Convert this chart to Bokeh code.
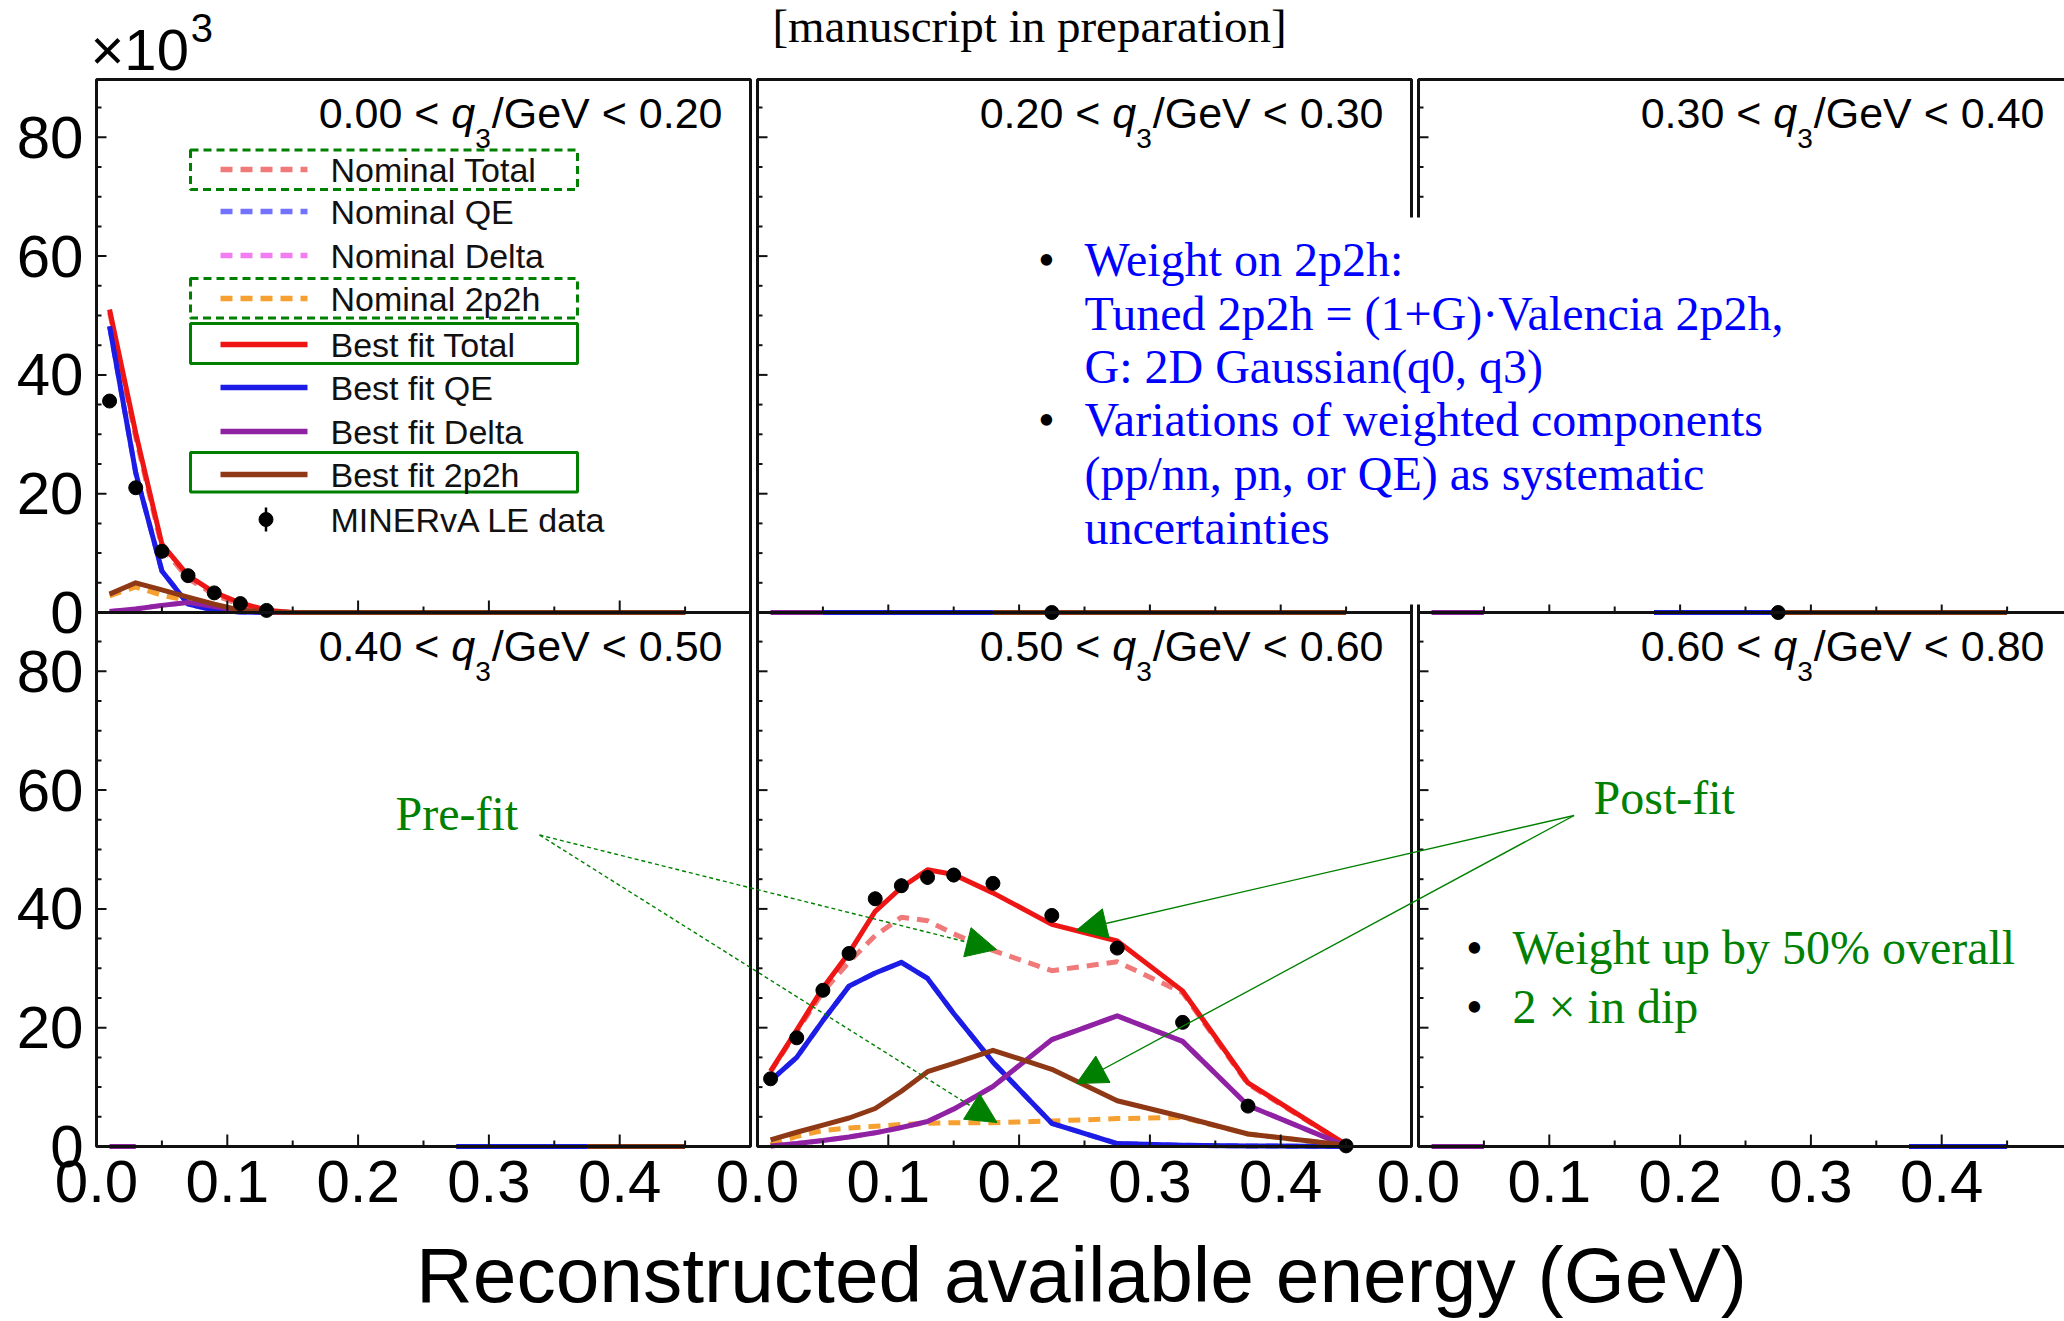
import numpy as np
from bokeh.plotting import figure
from bokeh.models import (Range1d, LinearAxis, FixedTicker, CustomJSTickFormatter,
                          Label, Arrow, NormalHead, AllLabels)
from bokeh.embed import file_html
from bokeh.resources import INLINE

# ---------------------------------------------------------------- data
energy_bins = [0.01, 0.03, 0.05, 0.07, 0.09, 0.11, 0.13, 0.15, 0.18, 0.225, 0.275, 0.325, 0.375, 0.45]
q3_edges = ["0.00", "0.20", "0.30", "0.40", "0.50", "0.60", "0.80"]
x_tick_values = [0.0, 0.1, 0.2, 0.3, 0.4]
y_tick_values = [0, 20, 40, 60, 80]
N = None

# 0.00 < q3 < 0.20
bin1_nominal_total = [50.5, 29.5, 11.0, 5.7, 3.0, 1.3, 0.3, 0, 0, 0, 0, 0, 0, 0]
bin1_nominal_qe    = [48.2, 23.5, 7.0, 1.4, 0.4, 0.1, 0.0, 0, 0, 0, 0, 0, 0, 0]
bin1_nominal_delta = [0.15, 0.6, 1.2, 1.7, 1.0, 0.3, 0.05, 0, 0, 0, 0, 0, 0, 0]
bin1_nominal_2p2h  = [2.8, 4.3, 2.9, 2.0, 1.0, 0.3, 0.0, 0, 0, 0, 0, 0, 0, 0]
bin1_best_total    = [51.0, 30.2, 11.5, 6.2, 3.4, 1.6, 0.4, 0, 0, 0, 0, 0, 0, 0]
bin1_best_qe       = [48.2, 23.5, 7.0, 1.4, 0.4, 0.1, 0.0, 0, 0, 0, 0, 0, 0, 0]
bin1_best_delta    = [0.15, 0.6, 1.2, 1.7, 1.0, 0.3, 0.05, 0, 0, 0, 0, 0, 0, 0]
bin1_best_2p2h     = [3.1, 5.0, 3.8, 2.6, 1.4, 0.4, 0.1, 0, 0, 0, 0, 0, 0, 0]
bin1_data          = [35.6, 21.0, 10.3, 6.2, 3.3, 1.5, 0.35, N, N, N, N, N, N, N]
bin1_err           = [1.0, 0.8, 0.6, 0.5, 0.4, 0.3, 0.2, N, N, N, N, N, N, N]

# 0.20 < q3 < 0.30
bin2_best_qe    = [N, N, 0, 0, 0, 0, 0, 0, 0, N, N, N, N, N]
bin2_best_delta = [0, 0, 0, N, N, N, N, N, N, N, N, N, N, N]
bin2_best_2p2h  = [N, N, N, N, N, N, N, N, 0, 0, 0, 0, 0, 0]
bin2_data       = [N, N, N, N, N, N, N, N, N, 0, N, N, N, N]
bin2_err        = [N, N, N, N, N, N, N, N, N, 0, N, N, N, N]

# 0.30 < q3 < 0.40
bin3_best_qe    = [N, N, N, N, N, N, N, N, 0, 0, 0, N, N, N]
bin3_best_delta = [0, 0, 0, N, N, N, N, N, N, N, N, N, N, N]
bin3_best_2p2h  = [N, N, N, N, N, N, N, N, N, N, 0, 0, 0, 0]
bin3_data       = [N, N, N, N, N, N, N, N, N, N, 0, N, N, N]
bin3_err        = [N, N, N, N, N, N, N, N, N, N, 0, N, N, N]

# 0.40 < q3 < 0.50
bin4_best_qe    = [N, N, N, N, N, N, N, N, N, N, 0, 0, 0, N]
bin4_best_delta = [0, 0, N, N, N, N, N, N, N, N, N, N, N, N]
bin4_best_2p2h  = [N, N, N, N, N, N, N, N, N, N, N, N, 0, 0]

# 0.50 < q3 < 0.60
bin5_nominal_total = [12.6, 19.4, 26.0, 31.1, 35.5, 38.6, 38.0, 35.8, 33.0, 29.6, 31.1, 25.9, 10.5, 0.3]
bin5_nominal_qe    = [11.1, 15.0, 21.2, 27.0, 29.2, 31.0, 28.3, 22.4, 14.2, 3.9, 0.5, 0.2, 0.1, 0.0]
bin5_nominal_delta = [0.1, 0.5, 1.0, 1.6, 2.3, 3.2, 4.2, 6.3, 10.1, 18.0, 22.0, 17.7, 6.9, 0.1]
bin5_nominal_2p2h  = [0.3, 1.7, 2.7, 3.1, 3.4, 3.7, 3.9, 4.0, 4.0, 4.3, 4.7, 4.9, 2.1, 0.2]
bin5_best_total    = [12.7, 19.6, 26.7, 32.6, 39.6, 43.6, 46.6, 45.8, 42.7, 37.4, 34.6, 26.2, 10.7, 0.3]
bin5_best_qe       = [11.1, 15.0, 21.2, 27.0, 29.2, 31.0, 28.3, 22.4, 14.2, 3.9, 0.5, 0.2, 0.1, 0.0]
bin5_best_delta    = [0.1, 0.5, 1.0, 1.6, 2.3, 3.2, 4.2, 6.3, 10.1, 18.0, 22.0, 17.7, 6.9, 0.1]
bin5_best_2p2h     = [1.1, 2.4, 3.6, 4.8, 6.4, 9.3, 12.6, 14.0, 16.2, 13.0, 7.7, 5.0, 2.1, 0.2]
bin5_data          = [11.4, 18.3, 26.3, 32.5, 41.7, 43.9, 45.3, 45.7, 44.3, 38.9, 33.4, 20.9, 6.8, 0.1]
bin5_err           = [0.8, 0.9, 1.0, 1.1, 1.2, 1.2, 1.2, 1.2, 0.9, 0.8, 0.7, 0.6, 0.4, 0.1]

# 0.60 < q3 < 0.80
bin6_best_qe    = [N, N, N, N, N, N, N, N, N, N, N, N, 0, 0]
bin6_best_delta = [0, 0, 0, N, N, N, N, N, N, N, N, N, N, N]

legend_labels = ["Nominal Total", "Nominal QE", "Nominal Delta", "Nominal 2p2h",
                 "Best fit Total", "Best fit QE", "Best fit Delta", "Best fit 2p2h",
                 "MINERvA LE data"]

# ---------------------------------------------------------------- layout (page px)
W, H = 2064, 1321
COL_LEFT = [96, 757, 1418]
PANEL_W = 654
ROW_TOP = [79, 612]
ROW_BOTTOM = [612, 1146]
X_MAX = 0.5
S = PANEL_W / X_MAX                       # px per GeV
T = (ROW_BOTTOM[1] - ROW_TOP[1]) / 89.9   # px per 10^3 events
ROW_TOPVAL = [(ROW_BOTTOM[r] - ROW_TOP[r]) / T for r in range(2)]

STYLES = [
    ("nominal_total", "#f07a7a", 5, "12 8"),
    ("nominal_qe", "#7272ff", 5, "12 8"),
    ("nominal_delta", "#f07ef0", 5, "12 8"),
    ("nominal_2p2h", "#f5a030", 5, "12 8"),
    ("best_total", "#ee1515", 5, "solid"),
    ("best_qe", "#1c1ce6", 5, "solid"),
    ("best_delta", "#8f22a3", 5, "solid"),
    ("best_2p2h", "#8e3815", 5, "solid"),
]
GREEN = "#008000"
SANS = "Liberation Sans"
SERIF = "Liberation Serif"

panels = [
    dict(col=0, row=0, lo=q3_edges[0], hi=q3_edges[1],
         nominal_total=bin1_nominal_total, nominal_qe=bin1_nominal_qe,
         nominal_delta=bin1_nominal_delta, nominal_2p2h=bin1_nominal_2p2h,
         best_total=bin1_best_total, best_qe=bin1_best_qe,
         best_delta=bin1_best_delta, best_2p2h=bin1_best_2p2h,
         data=bin1_data, err=bin1_err),
    dict(col=1, row=0, lo=q3_edges[1], hi=q3_edges[2],
         best_qe=bin2_best_qe, best_delta=bin2_best_delta, best_2p2h=bin2_best_2p2h,
         data=bin2_data, err=bin2_err),
    dict(col=2, row=0, lo=q3_edges[2], hi=q3_edges[3],
         best_qe=bin3_best_qe, best_delta=bin3_best_delta, best_2p2h=bin3_best_2p2h,
         data=bin3_data, err=bin3_err),
    dict(col=0, row=1, lo=q3_edges[3], hi=q3_edges[4],
         best_qe=bin4_best_qe, best_delta=bin4_best_delta, best_2p2h=bin4_best_2p2h),
    dict(col=1, row=1, lo=q3_edges[4], hi=q3_edges[5],
         nominal_total=bin5_nominal_total, nominal_qe=bin5_nominal_qe,
         nominal_delta=bin5_nominal_delta, nominal_2p2h=bin5_nominal_2p2h,
         best_total=bin5_best_total, best_qe=bin5_best_qe,
         best_delta=bin5_best_delta, best_2p2h=bin5_best_2p2h,
         data=bin5_data, err=bin5_err),
    dict(col=2, row=1, lo=q3_edges[5], hi=q3_edges[6],
         best_qe=bin6_best_qe, best_delta=bin6_best_delta),
]


def arr(v):
    return np.array([np.nan if a is None else a for a in v], dtype=float)


# the frame covers the whole canvas; main ranges are page pixels (y downwards)
p = figure(width=W, height=H, output_backend="svg", toolbar_location=None, title=None,
           x_range=Range1d(0, W), y_range=Range1d(H, 0),
           x_axis_type=None, y_axis_type=None,
           min_border_left=0, min_border_right=0, min_border_top=0, min_border_bottom=0)
p.outline_line_color = None
p.background_fill_color = "white"
p.border_fill_color = "white"

for k in range(3):
    p.extra_x_ranges[f"x{k}"] = Range1d((0 - COL_LEFT[k]) / S, (W - COL_LEFT[k]) / S)
for r in range(2):
    p.extra_y_ranges[f"y{r}"] = Range1d((ROW_BOTTOM[r] - H) / T, (ROW_BOTTOM[r] - 0) / T)

ex = np.array(energy_bins)

# ---------------------------------------------------------------- panel content
for pan in panels:
    xn, yn = f"x{pan['col']}", f"y{pan['row']}"
    for key, color, lw, dash in STYLES:
        if key in pan:
            p.line(ex, arr(pan[key]), line_color=color, line_width=lw, line_dash=dash,
                   line_join="round", x_range_name=xn, y_range_name=yn)
    if "data" in pan:
        yv = arr(pan["data"]); ev = arr(pan["err"])
        m = ~np.isnan(yv)
        p.segment(ex[m], yv[m] - ev[m], ex[m], yv[m] + ev[m], line_color="black",
                  line_width=2.5, x_range_name=xn, y_range_name=yn)
        p.scatter(ex[m], yv[m], size=14, marker="circle", fill_color="black",
                  line_color="black", x_range_name=xn, y_range_name=yn)

# borders and inward ticks
for pan in panels:
    xn, yn = f"x{pan['col']}", f"y{pan['row']}"
    top = ROW_TOPVAL[pan["row"]]
    p.quad(left=[0], right=[X_MAX], bottom=[0], top=[top], fill_color=None,
           line_color="#111111", line_width=3, x_range_name=xn, y_range_name=yn)
    x0s, y0s, x1s, y1s = [], [], [], []
    for v in range(5, 90, 5):
        if v > top:
            continue
        ln = 10 if v % 20 == 0 else 5
        x0s.append(0); x1s.append(ln / S); y0s.append(v); y1s.append(v)
    for i in range(1, 10):
        v = i * 0.05
        ln = 12 if i % 2 == 0 else 6
        x0s.append(v); x1s.append(v); y0s.append(0); y1s.append(ln / T)
    p.segment(x0s, y0s, x1s, y1s, line_color="#111111", line_width=2,
              x_range_name=xn, y_range_name=yn)

# white box covering the upper right (as in the slide)
p.quad(left=[778], right=[W], top=[217], bottom=[604], fill_color="white", line_color=None)

# ---------------------------------------------------------------- axes (tick labels)
pitch = (COL_LEFT[1] - COL_LEFT[0]) / S
xticks = [round(k * pitch + t, 6) for k in range(3) for t in x_tick_values]
xaxis = LinearAxis(x_range_name="x0", fixed_location=ROW_BOTTOM[1],
                   ticker=FixedTicker(ticks=xticks, minor_ticks=[]),
                   formatter=CustomJSTickFormatter(args=dict(pitch=pitch), code="""
                       const k = Math.floor((tick + 0.01) / pitch);
                       const v = tick - k * pitch;
                       return (Math.abs(v) < 1e-6 ? 0 : v).toFixed(1);"""),
                   major_label_policy=AllLabels())
yoff = (ROW_BOTTOM[1] - ROW_BOTTOM[0]) / T
yticks = [float(v) for v in y_tick_values] + [round(yoff + v, 6) for v in y_tick_values]
yaxis = LinearAxis(y_range_name="y1", fixed_location=COL_LEFT[0],
                   ticker=FixedTicker(ticks=yticks, minor_ticks=[]),
                   formatter=CustomJSTickFormatter(args=dict(off=yoff), code="""
                       const v = (tick >= off - 0.01) ? tick - off : tick;
                       return Math.round(v).toString();"""),
                   major_label_policy=AllLabels())
for ax in (xaxis, yaxis):
    ax.axis_line_color = None
    ax.major_tick_line_color = None
    ax.minor_tick_line_color = None
    ax.major_tick_in = 0
    ax.major_tick_out = 0
    ax.major_label_text_font = SANS
    ax.major_label_text_font_size = "60px"
    ax.major_label_text_color = "black"
xaxis.major_label_standoff = 14
yaxis.major_label_standoff = 13
p.add_layout(xaxis, "below")
p.add_layout(yaxis, "left")

# ---------------------------------------------------------------- panel titles
CW = {'0': .556, '1': .556, '2': .556, '3': .556, '4': .556, '5': .556, '6': .556,
      '7': .556, '8': .556, '9': .556, '.': .278, ' ': .278, '<': .584, '/': .278,
      'G': .778, 'e': .556, 'V': .667, 'q': .556}


def tw(s, size):
    return sum(CW.get(c, 0.556) for c in s) * size


TS, SS = 43, 28
ROW_MID = [112, 645]
for pan in panels:
    R = COL_LEFT[pan["col"]] + PANEL_W - 28
    b = ROW_MID[pan["row"]]
    tail = f"/GeV < {pan['hi']}"
    head = f"{pan['lo']} < "
    xt = R - tw(tail, TS)
    x3 = xt - tw("3", SS) - 1
    xq = x3 - tw("q", TS)
    common = dict(text_font=SANS, text_color="black", text_baseline="middle")
    p.add_layout(Label(x=xt, y=b, text=tail, text_font_size=f"{TS}px", text_align="left", **common))
    p.add_layout(Label(x=x3, y=b + 26, text="3", text_font_size=f"{SS}px", text_align="left", **common))
    p.add_layout(Label(x=xq, y=b, text="q", text_font_size=f"{TS}px", text_align="left",
                       text_font_style="italic", **common))
    p.add_layout(Label(x=xq, y=b, text=head, text_font_size=f"{TS}px", text_align="right", **common))

# ---------------------------------------------------------------- legend
LEG_ROWS = [169, 211, 255, 298, 344, 387, 431, 474, 519]
LEG_X0, LEG_X1, LEG_TX = 220, 307, 330
for i, (key, color, lw, dash) in enumerate(STYLES):
    y = LEG_ROWS[i]
    p.segment([LEG_X0], [y], [LEG_X1], [y], line_color=color, line_width=5.5, line_dash=dash)
mx = (LEG_X0 + LEG_X1) / 2 + 2
p.segment([mx], [LEG_ROWS[8] - 12], [mx], [LEG_ROWS[8] + 12], line_color="black", line_width=2.5)
p.scatter([mx], [LEG_ROWS[8]], size=14, marker="circle", fill_color="black", line_color="black")
for i, txt in enumerate(legend_labels):
    p.add_layout(Label(x=LEG_TX, y=LEG_ROWS[i], text=txt, text_font=SANS, text_font_size="34px",
                       text_color="#111111", text_baseline="middle"))
# highlight boxes
p.quad(left=[190, 190], right=[577, 577], top=[149.5, 278], bottom=[189, 317.5],
       fill_color=None, line_color=GREEN, line_width=3, line_dash="8 5")
p.quad(left=[190, 190], right=[577, 577], top=[323, 452], bottom=[363, 491.5],
       fill_color=None, line_color=GREEN, line_width=3)

# ---------------------------------------------------------------- texts
p.add_layout(Label(x=1029, y=25, text="[manuscript in preparation]", text_font=SERIF,
                   text_font_size="47px", text_align="center", text_baseline="middle",
                   text_color="black"))
p.add_layout(Label(x=90, y=49, text="\u00d710", text_font=SANS, text_font_size="58px",
                   text_baseline="middle", text_color="black"))
p.add_layout(Label(x=90 + tw("10", 58) + 0.584 * 58 + 2, y=27, text="3", text_font=SANS,
                   text_font_size="40px", text_baseline="middle", text_color="black"))
p.add_layout(Label(x=1081, y=1274, text="Reconstructed available energy (GeV)", text_font=SANS,
                   text_font_size="78.5px", text_align="center", text_baseline="middle",
                   text_color="black"))

blue_lines = ["Weight on 2p2h:", "Tuned 2p2h = (1+G)\u00b7Valencia 2p2h,", "G: 2D Gaussian(q0, q3)",
              "Variations of weighted components", "(pp/nn, pn, or QE) as systematic",
              "uncertainties"]
blue_mid = [259, 313, 366, 419, 472.5, 526.5]
for txt, yb in zip(blue_lines, blue_mid):
    p.add_layout(Label(x=1084, y=yb, text=txt, text_font=SERIF, text_font_size="48px",
                       text_color="#0000ff", text_baseline="middle"))
for yb in (blue_mid[0], blue_mid[3]):
    p.add_layout(Label(x=1046, y=yb, text="\u2022", text_font=SERIF, text_font_size="48px",
                       text_color="black", text_align="center", text_baseline="middle"))

green_lines = ["Weight up by 50% overall", "2 \u00d7 in dip"]
green_mid = [947, 1006]
for txt, yb in zip(green_lines, green_mid):
    p.add_layout(Label(x=1512, y=yb, text=txt, text_font=SERIF, text_font_size="48px",
                       text_color=GREEN, text_baseline="middle"))
    p.add_layout(Label(x=1474, y=yb, text="\u2022", text_font=SERIF, text_font_size="48px",
                       text_color="black", text_align="center", text_baseline="middle"))

p.add_layout(Label(x=395, y=813, text="Pre-fit", text_font=SERIF, text_font_size="48px",
                   text_color=GREEN, text_baseline="middle"))
p.add_layout(Label(x=1593, y=797, text="Post-fit", text_font=SERIF, text_font_size="48px",
                   text_color=GREEN, text_baseline="middle"))

for (xs, ys, xe, ye, dash) in [(539, 834.5, 996, 949, "4 3"), (539, 834.5, 996.5, 1122, "4 3"),
                               (1573.6, 815, 1076, 929.7, "solid"), (1573.6, 815, 1076, 1083, "solid")]:
    p.add_layout(Arrow(end=NormalHead(size=30, fill_color=GREEN, line_color=GREEN, line_width=1),
                       x_start=xs, y_start=ys, x_end=xe, y_end=ye,
                       line_color=GREEN, line_width=1.4, line_dash=dash))

open("out.html", "w").write(file_html(p, INLINE))
